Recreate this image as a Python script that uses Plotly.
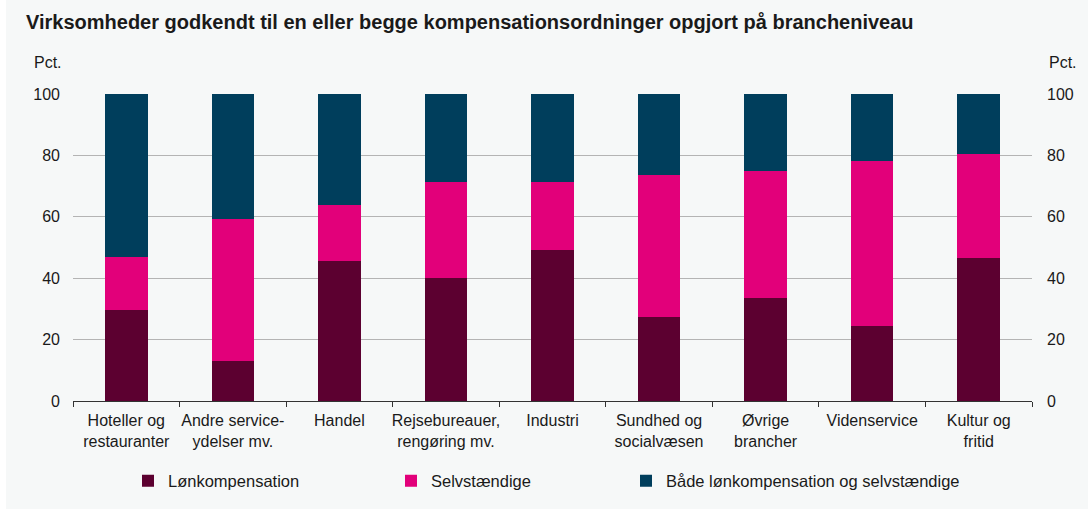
import plotly.graph_objects as go

# Brancher (x-akse) og andele i pct.
categories = [
    "Hoteller og<br>restauranter",
    "Andre service-<br>ydelser mv.",
    "Handel",
    "Rejsebureauer,<br>rengøring mv.",
    "Industri",
    "Sundhed og<br>socialvæsen",
    "Øvrige<br>brancher",
    "Videnservice",
    "Kultur og<br>fritid",
]
loenkomp = [29.6, 13.0, 45.5, 40.1, 49.1, 27.4, 33.5, 24.4, 46.5]
selvstaendige = [17.4, 46.3, 18.4, 31.1, 22.1, 46.2, 41.4, 53.9, 33.8]
begge = [53.0, 40.7, 36.1, 28.8, 28.8, 26.4, 25.1, 21.7, 19.7]

y_ticks = [0, 20, 40, 60, 80, 100]

# plot area in pixels: x 73..1032, y 94..402
PW, PH = 959, 308

fig = go.Figure()

fig.add_trace(go.Bar(x=categories, y=loenkomp, name="Lønkompensation", legend="legend",
                     marker=dict(color="#5c0030", line=dict(width=0))))
fig.add_trace(go.Bar(x=categories, y=selvstaendige, name="Selvstændige", legend="legend2",
                     marker=dict(color="#e2007a", line=dict(width=0))))
fig.add_trace(go.Bar(x=categories, y=begge, name="Både lønkompensation og selvstændige",
                     legend="legend3", marker=dict(color="#003e5c", line=dict(width=0))))

# dummy trace so the right-hand axis is drawn
fig.add_trace(go.Scatter(x=[categories[0]], y=[0], yaxis="y2", showlegend=False,
                         mode="markers", marker=dict(opacity=0), hoverinfo="skip"))

legend_style = dict(orientation="h", y=-0.2, yanchor="top", xanchor="left",
                    font=dict(size=16.5), itemwidth=30, bgcolor="rgba(0,0,0,0)")

fig.update_layout(
    width=1088,
    height=509,
    barmode="stack",
    bargap=0.6,
    paper_bgcolor="#f6f8f8",
    plot_bgcolor="#f6f8f8",
    font=dict(family="Liberation Sans, Arial, sans-serif", size=16, color="#1a1a1a"),
    margin=dict(l=73, r=56, t=94, b=107),
    title=dict(
        text="<b>Virksomheder godkendt til en eller begge kompensationsordninger opgjort på brancheniveau</b>",
        x=26 / 1088, xanchor="left", y=1 - 22 / 509, yanchor="middle",
        font=dict(size=20, color="#1a1a1a"),
    ),
    xaxis=dict(
        type="category",
        tickson="boundaries",
        ticks="outside",
        ticklen=5,
        tickcolor="#333333",
        tickangle=0,
        ticklabelstandoff=5,
        showline=True,
        linecolor="#333333",
        linewidth=1,
        showgrid=False,
        tickfont=dict(size=16),
    ),
    yaxis=dict(
        range=[0, 100],
        tickvals=y_ticks,
        showgrid=True,
        gridcolor="#b4b4b4",
        gridwidth=1,
        zeroline=False,
        showline=False,
        ticks="",
        ticklabelstandoff=12,
        fixedrange=True,
    ),
    yaxis2=dict(
        range=[0, 100],
        tickvals=y_ticks,
        overlaying="y",
        side="right",
        showgrid=False,
        zeroline=False,
        showline=False,
        ticks="",
        ticklabelstandoff=14,
        fixedrange=True,
    ),
    legend=dict(legend_style, x=(128 - 73) / PW),
    legend2=dict(legend_style, x=(391 - 73) / PW),
    legend3=dict(legend_style, x=(626 - 73) / PW),
    annotations=[
        dict(text="Pct.", xref="paper", yref="paper", x=-41 / PW, y=1 + 32 / PH,
             xanchor="left", yanchor="middle", showarrow=False, font=dict(size=16)),
        dict(text="Pct.", xref="paper", yref="paper", x=1 + 15 / PW, y=1 + 32 / PH,
             xanchor="left", yanchor="middle", showarrow=False, font=dict(size=16)),
    ],
    shapes=[
        dict(type="rect", xref="paper", yref="paper", x0=-80 / PW, x1=-67 / PW,
             y0=-120 / PH, y1=1 + 100 / PH, fillcolor="white", line=dict(width=0), layer="below"),
    ],
)

fig.write_html("out.html", config={"displayModeBar": False},
               post_script="document.body.style.margin='0';")
